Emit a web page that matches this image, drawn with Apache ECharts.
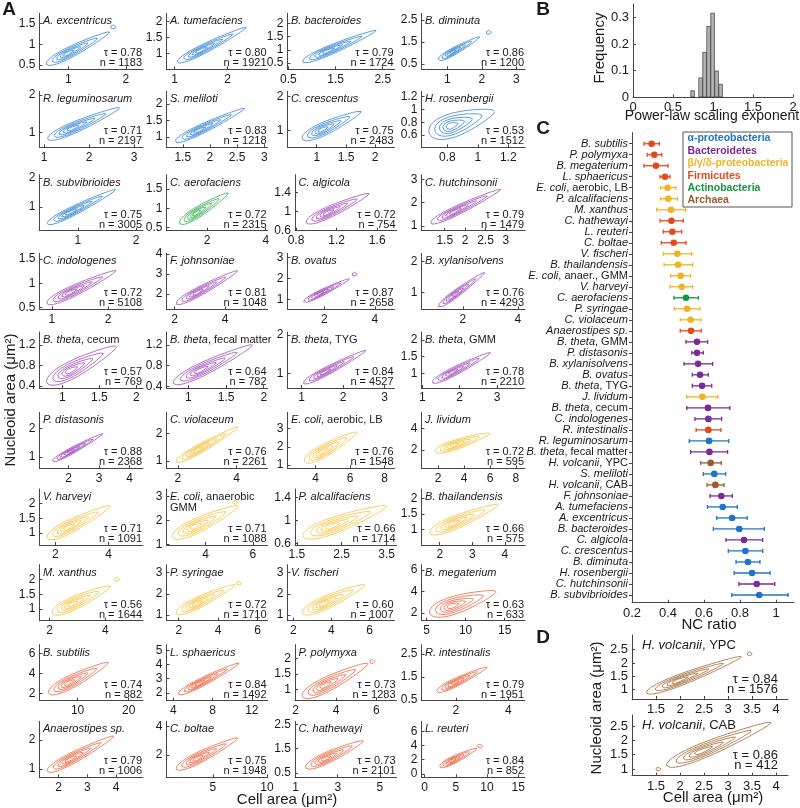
<!DOCTYPE html>
<html><head><meta charset="utf-8">
<script src="https://cdn.jsdelivr.net/npm/echarts@6/dist/echarts.min.js"></script>
<style>html,body{margin:0;padding:0;background:#fff}#c{width:800px;height:808px}</style>
</head><body><div id="c"></div>
<script>
// ---------------- DATA ----------------
// Panel A (40 strains) + Panel D (2 H. volcanii conditions, appended as 40, 41)
const names = [
 ['A. excentricus',''],['A. tumefaciens',''],['B. bacteroides',''],['B. diminuta',''],
 ['R. leguminosarum',''],['S. meliloti',''],['C. crescentus',''],['H. rosenbergii',''],
 ['B. subvibrioides',''],['C. aerofaciens',''],['C. algicola',''],['C. hutchinsonii',''],
 ['C. indologenes',''],['F. johnsoniae',''],['B. ovatus',''],['B. xylanisolvens',''],
 ['B. theta',', cecum'],['B. theta',', fecal matter'],['B. theta',', TYG'],['B. theta',', GMM'],
 ['P. distasonis',''],['C. violaceum',''],['E. coli',', aerobic, LB'],['J. lividum',''],
 ['V. harveyi',''],['E. coli',', anaerobic\nGMM'],['P. alcalifaciens',''],['B. thailandensis',''],
 ['M. xanthus',''],['P. syringae',''],['V. fischeri',''],['B. megaterium',''],
 ['B. subtilis',''],['L. sphaericus',''],['P. polymyxa',''],['R. intestinalis',''],
 ['Anaerostipes sp.',''],['C. boltae',''],['C. hathewayi',''],['L. reuteri',''],
 ['H. volcanii',', YPC'],['H. volcanii',', CAB']
];
const tauVals = [0.78,0.80,0.79,0.86, 0.71,0.83,0.75,0.53, 0.75,0.72,0.72,0.79, 0.72,0.81,0.87,0.76,
 0.57,0.64,0.84,0.78, 0.88,0.76,0.76,0.72, 0.71,0.71,0.66,0.66, 0.56,0.72,0.60,0.63,
 0.74,0.84,0.73,0.79, 0.79,0.75,0.73,0.84, 0.84,0.86];
const nVals = [1183,1921,1724,1200, 2197,1218,2483,1512, 3005,2315,754,1479, 5108,1048,2658,4293,
 769,782,4527,2210, 2368,2261,1548,595, 1091,1088,1714,575, 1644,1710,1007,633,
 882,1492,1283,1951, 1006,1948,2101,852, 1576,412];
const groups = ['a','a','a','a','a','a','a','a','a','t','b','b','b','b','b','b','b','b','b','b',
 'b','g','g','g','g','g','g','g','g','g','g','f','f','f','f','f','f','f','f','f','r','r'];
const xLim = [
 [0.5,2.3],[0.85,2.75],[0.48,2.75],[0.25,3.25],
 [0.9,3.2],[1.2,3.06],[0.5,2.33],[0.63,1.31],
 [0.34,2.12],[0.61,4.06],[0.79,1.79],[0.93,3.47],
 [0.78,2.62],[1.68,5.68],[0.54,4.78],[0.5,4.26],
 [0.69,2.09],[0.71,2.05],[0.66,3.24],[0.98,3.75],
 [1.05,4.44],[1.61,5.06],[2.38,8.57],[0.71,8.7],
 [1.41,5.29],[2.35,6.62],[1.46,3.72],[1.44,4.62],
 [1.64,5.35],[1.38,6.5],[1.7,7.3],[4.36,17.6],
 [2.55,22.8],[3.3,13.6],[1.97,7],[0.69,4.64],
 [1.34,4.93],[0.7,10.05],[0.97,5.79],[-0.5,16.1],
 [1,4.25],[1,4.25]
];
const yLim = [
 [0.4,1.75],[0.5,2.25],[0.25,2.4],[0.26,2.8],
 [0.6,2.1],[0.68,2.39],[0.5,2.16],[0.41,1.28],
 [0.19,2.11],[0.41,1.88],[0.59,1.78],[0.8,3.2],
 [0.46,1.62],[1.23,4.03],[0.52,3.2],[0.46,2.27],
 [0.36,1.45],[0.37,1.45],[0.62,2.08],[0.56,2.24],
 [0.59,2.58],[0.74,2.77],[0.82,3.89],[0.3,5.5],
 [0.6,2.49],[0.98,3.3],[0.57,1.55],[0.51,2.3],
 [0.61,2.5],[0.73,3.38],[0.73,3.38],[1.3,6.5],
 [1.26,6.9],[1.44,5.4],[0.63,2.45],[0.47,2.9],
 [0.72,2.65],[0.46,4.36],[0.33,2.62],[-0.5,7.4],
 [0.65,3.05],[0.77,2.88]
];
const xTicks = [
 [1,2],[1,2],[0.5,1.5,2.5],[1,2,3],
 [1,2,3],[1.5,2,2.5,3],[1,1.5,2],[0.8,1,1.2],
 [1,2],[2,4],[0.8,1.2,1.6],[1.5,2,2.5,3],
 [1,2],[2,4],[2,4],[2,4],
 [1,1.5,2],[1,1.5,2],[1,2,3],[1,2,3],
 [2,3,4],[2,4],[4,6,8],[2,4,6,8],
 [2,4],[4,6],[1.5,2.5,3.5],[2,3,4],
 [2,4],[2,4,6],[2,4,6],[5,10,15],
 [10,20],[4,8,12],[2,4,6],[2,4],
 [2,3,4],[5,10],[1,3,5],[0,5,10,15],
 [1.5,2,2.5,3,3.5,4],[1.5,2,2.5,3,3.5,4]
];
const yTicks = [
 [0.5,1,1.5],[1,1.5,2],[0.5,1,1.5,2],[0.5,1.5,2.5],
 [1,2],[1,1.5,2],[1,2],[0.6,0.8,1,1.2],
 [1,2],[0.5,1,1.5],[0.6,1,1.4],[1,2,3],
 [0.5,1,1.5],[2,3,4],[1,2,3],[1,2],
 [0.4,0.8,1.2],[0.4,0.8,1.2],[1,2],[1,1.5,2],
 [1,2],[1,2],[1,2,3],[2,4],
 [1,1.5,2],[1,2,3],[0.6,1,1.4],[1,1.5,2],
 [1,1.5,2],[1,2,3],[1,2,3],[2,4,6],
 [2,4,6],[2,3,4,5],[1,1.5,2],[0.5,1.5,2.5],
 [1,2],[2,4],[0.5,1.5,2.5],[0,2,4,6],
 [1,1.5,2,2.5],[1,1.5,2,2.5]
];
// outermost density contour: lower-left tip, upper-right tip (cell area, nucleoid area)
const contourLo = [
 [0.62,0.52],[1.05,0.72],[0.8,0.54],[0.73,0.68],
 [1.08,0.82],[1.36,0.85],[0.75,0.75],[0.68,0.63],
 [0.47,0.42],[1.06,0.6],[0.9,0.76],[1.15,1.12],
 [0.91,0.58],[2.06,1.5],[1.18,0.88],[1.12,0.55],
 [0.79,0.46],[0.8,0.46],[1.04,0.74],[1.27,0.72],
 [1.46,0.83],[1.94,0.97],[3.36,1.18],[1.74,1.85],
 [1.69,0.83],[2.6,1.3],[1.64,0.72],[1.69,0.89],
 [2.09,0.86],[1.87,1.08],[2.48,1.08],[5.4,2.0],
 [4.3,2.0],[4.5,1.9],[2.33,0.76],[1.27,0.86],
 [1.6,0.92],[1.6,1.03],[1.47,0.72],[2.4,0.96],
 [1.3,0.88],[1.72,1.12]
];
const contourHi = [
 [1.72,1.3],[2.35,1.81],[2.36,1.74],[1.94,1.73],
 [2.68,1.66],[2.64,1.87],[1.76,1.56],[1.11,0.97],
 [1.65,1.6],[2.72,1.4],[1.52,1.38],[2.87,2.57],
 [2.14,1.26],[4.5,3.16],[3.0,1.98],[2.79,1.65],
 [1.73,1.17],[1.85,1.2],[2.55,1.6],[2.82,1.62],
 [3.13,1.82],[4.06,2.24],[6.4,2.8],[6.0,3.55],
 [4.06,1.92],[5.39,2.6],[3.5,1.25],[3.8,1.8],
 [4.18,1.77],[4.85,2.43],[5.75,2.43],[13.9,4.0],
 [16,5.1],[10.7,4.1],[5.6,1.84],[3.2,1.93],
 [3.92,2.14],[7.3,3.2],[4.22,1.82],[8.4,3.6],
 [3.28,2.24],[3.9,2.62]
];
// vertical thickness of outermost contour (nucleoid-area units)
const contourSpread = [0.27,0.30,0.36,0.34, 0.30,0.29,0.39,0.36, 0.32,0.30,0.24,0.40, 0.23,0.47,0.31,0.27,
 0.35,0.26,0.22,0.26, 0.23,0.34,0.72,0.87, 0.45,0.62,0.28,0.42, 0.45,0.54,0.62,1.6,
 1.33,0.6,0.49,0.36, 0.39,0.78,0.46,1.06, 0.42,0.52];
// isolated small contours: [panel, cell area, nucleoid area]
const blobs = [[0,1.78,1.42],[3,2.2,1.93],[14,3.2,2.2],[25,5.25,2.75],[28,4.42,2.0],[29,5.05,2.5],
 [34,5.8,1.9],[39,8.9,3.9],[40,3.45,2.35],[41,1.55,1.0]];

// Panel B histogram
const expCenters = [0.745,0.845,0.895,0.945,0.995,1.045,1.095];
const expFreq = [0.026,0.074,0.17,0.267,0.317,0.1,0.05];

// Panel C NC ratio
const ncNames = [
 ['B. subtilis',''],['P. polymyxa',''],['B. megaterium',''],['L. sphaericus',''],
 ['E. coli',', aerobic, LB'],['P. alcalifaciens',''],['M. xanthus',''],['C. hathewayi',''],
 ['L. reuteri',''],['C. boltae',''],['V. fischeri',''],['B. thailandensis',''],
 ['E. coli',', anaer., GMM'],['V. harveyi',''],['C. aerofaciens',''],['P. syringae',''],
 ['C. violaceum',''],['Anaerostipes sp.',''],['B. theta',', GMM'],['P. distasonis',''],
 ['B. xylanisolvens',''],['B. ovatus',''],['B. theta',', TYG'],['J. lividum',''],
 ['B. theta',', cecum'],['C. indologenes',''],['R. intestinalis',''],['R. leguminosarum',''],
 ['B. theta',', fecal matter'],['H. volcanii',', YPC'],['S. meliloti',''],['H. volcanii',', CAB'],
 ['F. johnsoniae',''],['A. tumefaciens',''],['A. excentricus',''],['B. bacteroides',''],
 ['C. algicola',''],['C. crescentus',''],['B. diminuta',''],['H. rosenbergii',''],
 ['C. hutchinsonii',''],['B. subvibrioides','']
];
const ncMean = [0.309,0.324,0.333,0.383,0.398,0.402,0.417,0.419,0.424,0.432,0.452,0.456,0.47,0.476,
 0.50,0.506,0.526,0.528,0.561,0.561,0.567,0.578,0.589,0.591,0.622,0.624,0.624,0.628,0.63,0.637,
 0.657,0.663,0.696,0.704,0.756,0.796,0.822,0.83,0.844,0.867,0.893,0.907];
const ncLo = [0.267,0.285,0.267,0.356,0.359,0.359,0.337,0.356,0.374,0.363,0.374,0.378,0.415,0.411,
 0.433,0.435,0.468,0.468,0.50,0.532,0.489,0.535,0.535,0.504,0.504,0.55,0.556,0.518,0.526,0.582,
 0.596,0.617,0.633,0.619,0.67,0.652,0.722,0.735,0.778,0.767,0.794,0.754];
const ncHi = [0.352,0.365,0.40,0.411,0.444,0.452,0.498,0.485,0.476,0.50,0.532,0.537,0.526,0.537,
 0.569,0.578,0.583,0.585,0.62,0.596,0.648,0.624,0.643,0.676,0.744,0.698,0.694,0.737,0.731,0.696,
 0.72,0.711,0.757,0.785,0.84,0.935,0.926,0.926,0.911,0.967,0.993,1.067];
const ncGroup = ['f','f','f','f','g','g','g','f','f','f','g','g','g','g','t','g','g','f','b','b',
 'b','b','b','g','b','b','f','a','b','r','a','r','b','a','a','a','b','a','a','a','b','a'];
const ncRows = ncNames.map((_, k) => k + 1);
const ncTicks = [0.2,0.4,0.6,0.8,1];
const legendItems = [['α-proteobacteria','a'],['Bacteroidetes','b'],['β/γ/δ-proteobacteria','g'],
 ['Firmicutes','f'],['Actinobacteria','t'],['Archaea','r']];

// ---------------- STYLE / LAYOUT ----------------
const FONT = '"Liberation Sans", Arial, Helvetica, sans-serif';
const AXC = '#454545', TXT = '#1a1a1a';
const C_CONT = {a:'#3d8bd5', b:'#a555bd', g:'#f6c445', f:'#ec6c48', t:'#3cb05a', r:'#a8703c'};
const C_DOT  = {a:'#1f74c6', b:'#7a2b94', g:'#f2b323', f:'#e14a1f', t:'#13983f', r:'#9c5b2b'};
const LEVELS = [1, 0.72, 0.5, 0.33, 0.18];
const PEAK = 0.32, TAPER = 0.42, NSEG = 60;
const colLeft = [39.5,166.5,287.5,421.5], colW = [103.5,101,107,103.5];
const rowBottom = [69.3,147.3,230.7,309.3,388,468.3,545,620.7,700.7,777.3];
const PH = 56;
function rectOf(i){
  if (i === 40) return {l:632, t:635, w:156, h:64};
  if (i === 41) return {l:632, t:715, w:156, h:60.7};
  const r = Math.floor(i/4), c = i % 4;
  let l = colLeft[c], w = colW[c];
  if ([10,26,34,38].includes(i)) { l = 295; w = 101.5; }
  return {l, t: rowBottom[r]-PH, w, h: PH};
}

function contours(i, rc){
  const xl = xLim[i], yl = yLim[i];
  const sx = rc.w/(xl[1]-xl[0]), sy = rc.h/(yl[1]-yl[0]);
  const toPx = p => [(p[0]-xl[0])*sx, (p[1]-yl[0])*sy];
  const toData = q => [q[0]/sx + xl[0], q[1]/sy + yl[0]];
  const a = toPx(contourLo[i]), b = toPx(contourHi[i]);
  const dx = b[0]-a[0], dy = b[1]-a[1], L = Math.hypot(dx, dy);
  const d = [dx/L, dy/L], nr = [-d[1], d[0]];
  const half = contourSpread[i]*sy/2*Math.abs(d[0]);
  const M = [(a[0]+b[0])/2, (a[1]+b[1])/2];
  const P = [a[0]+PEAK*dx, a[1]+PEAK*dy];
  const res = [];
  LEVELS.forEach(s => {
    const C = [P[0]+s*(M[0]-P[0]), P[1]+s*(M[1]-P[1])];
    const ak = s*L/2, bk = Math.pow(s, 0.8)*half;
    const pts = [];
    for (let k = 0; k <= NSEG; k++){
      const t = k/NSEG*2*Math.PI, c = Math.cos(t), sn = Math.sin(t);
      const u = ak*c, v = bk*sn*(1 - TAPER*c);
      pts.push(toData([C[0]+u*d[0]+v*nr[0], C[1]+u*d[1]+v*nr[1]]));
    }
    res.push(pts);
  });
  blobs.filter(bb => bb[0] === i).forEach(bb => {
    const c0 = toPx([bb[1], bb[2]]), pts = [];
    for (let k = 0; k <= 16; k++){
      const t = k/16*2*Math.PI;
      pts.push(toData([c0[0]+2.6*Math.cos(t), c0[1]+2*Math.sin(t)]));
    }
    res.push(pts);
  });
  return res;
}

function axis(gi, lim, ticks, fs, extra){
  return Object.assign({
    type:'value', gridIndex:gi, min:lim[0], max:lim[1],
    splitLine:{show:false},
    axisLine:{show:true, onZero:false, lineStyle:{color:AXC, width:1}},
    axisTick:{show:true, inside:true, length:3, customValues:ticks, lineStyle:{color:AXC}},
    axisLabel:{customValues:ticks, fontSize:fs, color:TXT, fontFamily:FONT, margin:4}
  }, extra || {});
}

const grids = [], xAxes = [], yAxes = [], series = [], graphics = [];
const richStyle = (fs) => ({
  i:{fontStyle:'italic', fontSize:fs, fontFamily:FONT, fill:TXT, color:TXT},
  n:{fontStyle:'normal', fontSize:fs, fontFamily:FONT, fill:TXT, color:TXT}
});
const richName = nm => '{i|' + nm[0] + '}' + (nm[1] ? '{n|' + nm[1] + '}' : '');

for (let i = 0; i < 42; i++){
  const rc = rectOf(i);
  const isD = i >= 40;
  grids.push({left:rc.l, top:rc.t, width:rc.w, height:rc.h, containLabel:false, outerBoundsMode:'none'});
  const fs = isD ? 13 : 12;
  xAxes.push(axis(i, xLim[i], xTicks[i], fs));
  yAxes.push(axis(i, yLim[i], yTicks[i], fs));
  const col = C_CONT[groups[i]];
  contours(i, rc).forEach(pts => series.push({
    type:'line', xAxisIndex:i, yAxisIndex:i, data:pts, showSymbol:false, symbol:'none',
    lineStyle:{color:col, width:0.85}, silent:true, animation:false
  }));
  const bottom = rc.t + rc.h, right = rc.l + rc.w;
  const tfs = isD ? 13 : 11;
  graphics.push({type:'text', x: rc.l + (isD ? 10 : 3.5), y: rc.t + (isD ? 10 : 2.5), silent:true,
    style:{text: richName(names[i]), rich: richStyle(tfs), align:'left', verticalAlign: isD ? 'middle' : 'top',
      font: 'italic ' + tfs + 'px ' + FONT, fill:TXT}});
  graphics.push({type:'text', x: right - (isD ? 10 : 1), y: bottom - (isD ? 20 : 16), silent:true,
    style:{text:'τ = ' + tauVals[i].toFixed(2), font: tfs + 'px ' + FONT, fill:TXT, align:'right', verticalAlign:'middle'}});
  graphics.push({type:'text', x: right - (isD ? 10 : 1), y: bottom - (isD ? 10 : 6), silent:true,
    style:{text:'n = ' + nVals[i], font: tfs + 'px ' + FONT, fill:TXT, align:'right', verticalAlign:'middle'}});
}

// Panel B histogram (grid 42)
grids.push({left:633, top:4, width:160, height:93.3, containLabel:false, outerBoundsMode:'none'});
xAxes.push(axis(42, [0,2], [0,0.5,1,1.5,2], 13));
yAxes.push(axis(42, [0,0.35], [0,0.1,0.2,0.3], 13));
series.push({type:'bar', xAxisIndex:42, yAxisIndex:42, data: expCenters.map((c,k)=>[c, expFreq[k]]),
  barWidth:4.3, itemStyle:{color:'#b5b5b5', borderColor:'#333', borderWidth:0.7}, animation:false, silent:true});

// Panel C (grid 43)
grids.push({left:632, top:132.7, width:162, height:470, containLabel:false, outerBoundsMode:'none'});
xAxes.push(axis(43, [0.2,1.1], ncTicks, 13));
yAxes.push({type:'value', gridIndex:43, min:0, max:42.7, inverse:true,
  splitLine:{show:false},
  axisLine:{show:true, onZero:false, lineStyle:{color:AXC, width:1}},
  axisTick:{show:true, inside:false, length:3, customValues:ncRows, lineStyle:{color:AXC}},
  axisLabel:{customValues:ncRows, margin:4, fontSize:11, fontFamily:FONT, color:TXT,
    formatter: v => richName(ncNames[Math.round(v)-1]), rich: richStyle(11)}
});
series.push({type:'custom', xAxisIndex:43, yAxisIndex:43, animation:false, silent:true,
  data: ncMean.map((m,k)=>[m, ncRows[k], ncLo[k], ncHi[k]]),
  encode:{x:[0,2,3], y:1},
  renderItem:(params, api) => {
    const k = params.dataIndex, col = C_DOT[ncGroup[k]];
    const y = api.value(1);
    const p1 = api.coord([api.value(2), y]), p2 = api.coord([api.value(3), y]), pm = api.coord([api.value(0), y]);
    const ls = {stroke:col, lineWidth:1.3};
    return {type:'group', children:[
      {type:'line', shape:{x1:p1[0], y1:p1[1], x2:p2[0], y2:p2[1]}, style:ls},
      {type:'line', shape:{x1:p1[0], y1:p1[1]-2, x2:p1[0], y2:p1[1]+2}, style:ls},
      {type:'line', shape:{x1:p2[0], y1:p2[1]-2, x2:p2[0], y2:p2[1]+2}, style:ls},
      {type:'circle', shape:{cx:pm[0], cy:pm[1], r:3.3}, style:{fill:col}}
    ]};
  }
});

// legend box for C
graphics.push({type:'rect', shape:{x:683, y:132, width:109, height:75}, style:{fill:'#fff', stroke:'#555', lineWidth:1}, z:10});
legendItems.forEach((it, k) => graphics.push({type:'text', x:687.5, y:138.5 + k*12.4, z:11,
  style:{text:it[0], font:'bold 10.5px ' + FONT, fill:C_DOT[it[1]], align:'left', verticalAlign:'middle'}}));

// titles, panel letters
const T = (text, x, y, fs, opt) => graphics.push(Object.assign({type:'text', x, y, silent:true,
  style:{text, font: (opt && opt.bold ? 'bold ' : '') + fs + 'px ' + FONT, fill:TXT, align:'center', verticalAlign:'middle'}},
  opt && opt.rot ? {rotation: Math.PI/2} : {}));
T('A', 9, 10, 19, {bold:true});
T('B', 543, 10, 19, {bold:true});
T('C', 543, 129, 19, {bold:true});
T('D', 543, 638, 19, {bold:true});
T('Nucleoid area (μm²)', 11, 400, 15, {rot:true});
T('Cell area (μm²)', 287, 800, 15);
T('Frequency', 600, 48, 15, {rot:true});
T('Power-law scaling exponent', 712, 116, 14);
T('NC ratio', 709, 625, 15);
T('Nucleoid area (μm²)', 597, 708, 15, {rot:true});
T('Cell area (μm²)', 713, 798, 15);

const chart = echarts.init(document.getElementById('c'), null, {renderer:'canvas'});
chart.setOption({animation:false, grid:grids, xAxis:xAxes, yAxis:yAxes, series, graphic:graphics});
</script></body></html>
